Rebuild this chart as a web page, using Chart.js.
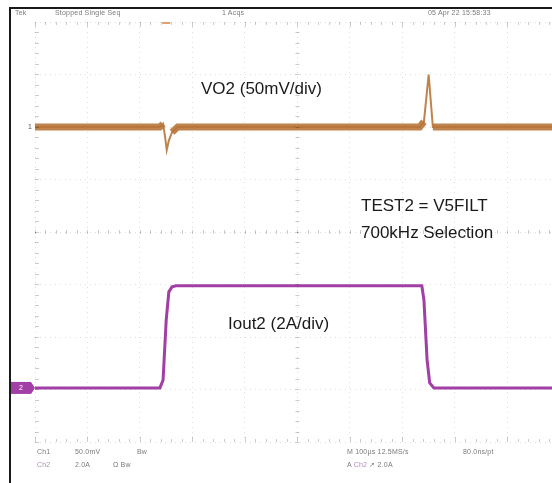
<!DOCTYPE html>
<html lang="en">
<head>
<meta charset="UTF-8" />
<title>VO2 / Iout2 load step</title>
<script src="https://cdn.jsdelivr.net/npm/chart.js"></script>
<style>
  body { margin: 0; background: #fff; font-family: "Liberation Sans", Arial, sans-serif; }
  #wrap { position: relative; width: 552px; height: 483px; overflow: hidden; }
  canvas { position: absolute; left: 0; top: 0; }
  .lbl { position: absolute; font-size: 17px; color: #1a1a1a; white-space: nowrap; }
  .tiny { position: absolute; font-size: 7px; color: #7a7a7a; white-space: nowrap; letter-spacing: 0.2px; }
  .p { color: #b58ab8; }
</style>
</head>
<body>
<div id="wrap">
  <canvas id="chart" width="552" height="483"></canvas>

  <div class="tiny" style="left:15px; top:9px;">Tek</div>
  <div class="tiny" style="left:55px; top:9px;">Stopped  Single Seq</div>
  <div class="tiny" style="left:222px; top:9px;">1 Acqs</div>
  <div class="tiny" style="left:428px; top:9px;">05 Apr 22 15:58:33</div>

  <div class="lbl" style="left:201px; top:79px;">VO2 (50mV/div)</div>
  <div class="lbl" style="left:361px; top:196px;">TEST2 = V5FILT</div>
  <div class="lbl" style="left:361px; top:223px;">700kHz Selection</div>
  <div class="lbl" style="left:228px; top:314px;">Iout2 (2A/div)</div>

  <div class="tiny" style="left:37px; top:448px;">Ch1</div>
  <div class="tiny" style="left:75px; top:448px;">50.0mV</div>
  <div class="tiny" style="left:137px; top:448px;">Bw</div>
  <div class="tiny p" style="left:37px; top:461px;">Ch2</div>
  <div class="tiny" style="left:75px; top:461px;">2.0A</div>
  <div class="tiny" style="left:113px; top:461px;">Ω Bw</div>
  <div class="tiny" style="left:347px; top:448px;">M 100µs 12.5MS/s</div>
  <div class="tiny" style="left:463px; top:448px;">80.0ns/pt</div>
  <div class="tiny" style="left:347px; top:461px;">A <span class="p">Ch2</span> ↗ 2.0A</div>
</div>

<script>
// time axis in µs (100 µs/div), 10 divisions, screen cut at ~985 µs
const X_MIN = 0;
const X_MAX = 985;

// VO2, 50 mV/div, channel marker at +2 div
const vo2Time = [0, 238, 244, 248, 251, 255, 261, 272, 733, 741, 747, 750, 754, 758, 985];
const vo2mV   = [0, 0, 3, -10, -22, -13, -5, 0, 0, 5, 35, 50, 25, 0, 0];
const VO2_OFFSET_DIV = 2;
const VO2_MV_PER_DIV = 50;

// Iout2, 2 A/div, channel marker at -2.97 div
const ioutTime = [0, 238, 244, 250, 255, 261, 269, 737, 741, 747, 752, 760, 985];
const ioutAmp  = [0, 0, 0.30, 2.59, 3.66, 3.85, 3.89, 3.89, 3.35, 1.07, 0.19, 0, 0];
const IOUT_OFFSET_DIV = -2.97;
const IOUT_A_PER_DIV = 2;

const ORANGE = 'rgba(184,118,58,0.9)';
const PURPLE = '#a23fa6';

const vo2Points = vo2Time.map((t, i) => ({ x: t, y: VO2_OFFSET_DIV + vo2mV[i] / VO2_MV_PER_DIV }));
const ioutPoints = ioutTime.map((t, i) => ({ x: t, y: IOUT_OFFSET_DIV + ioutAmp[i] / IOUT_A_PER_DIV }));

// thick noise band only near the baseline, transients drawn thin
const onBase = p => Math.abs(p.parsed.y - VO2_OFFSET_DIV) <= 0.11;

const scopeDecor = {
  id: 'scopeDecor',
  afterDraw(chart) {
    const { ctx, chartArea: a, scales } = chart;
    ctx.save();
    ctx.strokeStyle = '#1a1a1a';
    ctx.lineWidth = 2;
    ctx.beginPath();
    ctx.moveTo(10, 483);
    ctx.lineTo(10, 8);
    ctx.lineTo(552, 8);
    ctx.stroke();

    ctx.strokeStyle = 'rgba(0,0,0,0.2)';
    ctx.lineWidth = 1;
    const xc = scales.x.getPixelForValue(500);
    const yc = scales.y.getPixelForValue(0);
    for (let t = 0; t <= X_MAX; t += 20) {
      const px = Math.round(scales.x.getPixelForValue(t)) + 0.5;
      const len = t % 100 === 0 ? 5 : 3;
      ctx.beginPath();
      ctx.moveTo(px, a.top); ctx.lineTo(px, a.top + len);
      ctx.moveTo(px, a.bottom); ctx.lineTo(px, a.bottom - len);
      ctx.moveTo(px, yc - 2); ctx.lineTo(px, yc + 2);
      ctx.stroke();
    }
    for (let d = -4; d <= 4; d += 0.2) {
      const py = Math.round(scales.y.getPixelForValue(d)) + 0.5;
      ctx.beginPath();
      ctx.moveTo(a.left, py); ctx.lineTo(a.left + 4, py);
      ctx.moveTo(xc - 2, py); ctx.lineTo(xc + 2, py);
      ctx.stroke();
    }

    const y1 = scales.y.getPixelForValue(VO2_OFFSET_DIV);
    ctx.fillStyle = '#555';
    ctx.font = '7px "Liberation Sans", Arial';
    ctx.textBaseline = 'middle';
    ctx.fillText('1', 28, y1);

    const y2 = scales.y.getPixelForValue(IOUT_OFFSET_DIV);
    ctx.fillStyle = PURPLE;
    ctx.fillRect(11, y2 - 6, 20, 12);
    ctx.beginPath();
    ctx.moveTo(31, y2 - 6); ctx.lineTo(35, y2); ctx.lineTo(31, y2 + 6);
    ctx.fill();
    ctx.fillStyle = '#fff';
    ctx.fillText('2', 19, y2);

    ctx.fillStyle = '#e0a070';
    ctx.fillRect(scales.x.getPixelForValue(250) - 4, a.top, 8, 2);
    ctx.restore();
  }
};

const ctx = document.getElementById('chart').getContext('2d');
new Chart(ctx, {
  type: 'line',
  data: {
    datasets: [
      {
        label: 'VO2 band',
        data: vo2Points,
        borderColor: ORANGE,
        borderWidth: 7,
        pointRadius: 0,
        tension: 0,
        segment: {
          borderColor: s => (onBase(s.p0) && onBase(s.p1)) ? ORANGE : 'rgba(0,0,0,0)'
        }
      },
      {
        label: 'VO2',
        data: vo2Points,
        borderColor: ORANGE,
        borderWidth: 2,
        pointRadius: 0,
        tension: 0
      },
      {
        label: 'Iout2',
        data: ioutPoints,
        borderColor: PURPLE,
        borderWidth: 3,
        pointRadius: 0,
        tension: 0
      }
    ]
  },
  options: {
    responsive: false,
    animation: false,
    layout: { padding: { left: 35, top: 22, right: 0, bottom: 41 } },
    plugins: { legend: { display: false }, tooltip: { enabled: false } },
    scales: {
      x: {
        type: 'linear',
        min: X_MIN,
        max: X_MAX,
        ticks: { display: false, stepSize: 100 },
        grid: { color: 'rgba(0,0,0,0.13)', drawTicks: false, lineWidth: 1 },
        border: { display: false, dash: [1, 4] }
      },
      y: {
        type: 'linear',
        min: -4,
        max: 4,
        ticks: { display: false, stepSize: 1 },
        grid: { color: 'rgba(0,0,0,0.13)', drawTicks: false, lineWidth: 1 },
        border: { display: false, dash: [1, 4] }
      }
    }
  },
  plugins: [scopeDecor]
});
</script>
</body>
</html>
